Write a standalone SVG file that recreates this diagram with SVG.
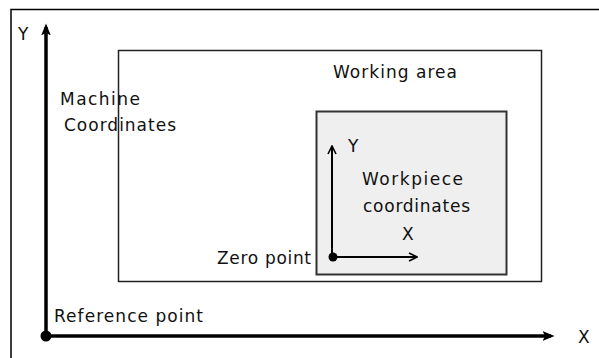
<svg xmlns="http://www.w3.org/2000/svg" width="599" height="358" viewBox="0 0 599 358">
<style>
text{font-family:"DejaVu Sans","Liberation Sans",Arial,sans-serif;font-size:17px;fill:#111}
.ax{stroke:#000;stroke-width:3.5;fill:none}
.ax2{stroke:#000;stroke-width:2;fill:none}
</style>
<defs>
<marker id="big" viewBox="0 0 10 10" refX="7" refY="5" markerWidth="3.4" markerHeight="3.4" orient="auto" markerUnits="strokeWidth">
<path d="M0,1 L10,5 L0,9 L2,5 Z" fill="#000"/>
</marker>
<marker id="open" viewBox="0 0 10 10" refX="9" refY="5" markerWidth="5" markerHeight="5" orient="auto" markerUnits="strokeWidth">
<path d="M1,1 L9,5 L1,9" fill="none" stroke="#000" stroke-width="1.6"/>
</marker>
</defs>
<rect width="599" height="358" fill="#fff"/>
<g id="frame">
<path d="M11,358 V9.5 H599" fill="none" stroke="#000" stroke-width="1.5"/>
</g>
<g id="working-area">
<rect x="118.5" y="50.5" width="423" height="231" fill="#fff" stroke="#222" stroke-width="1.5"/>
<text x="333" y="78" textLength="124">Working area</text>
</g>
<g id="workpiece">
<rect x="316.5" y="111.5" width="190" height="163" fill="#efefef" stroke="#333" stroke-width="2"/>
<text x="362" y="185" textLength="101">Workpiece</text>
<text x="363" y="212" textLength="107">coordinates</text>
</g>
<g id="connectors">
<line class="ax" x1="46" y1="336" x2="46" y2="27" marker-end="url(#big)"/>
<line class="ax" x1="46" y1="336" x2="551" y2="336" marker-end="url(#big)"/>
<line class="ax2" x1="332" y1="257" x2="332" y2="146" marker-end="url(#open)"/>
<line class="ax2" x1="332" y1="257" x2="417" y2="257" marker-end="url(#open)"/>
</g>
<g id="reference-point">
<circle cx="46" cy="336" r="5.5" fill="#000"/>
<text x="54" y="322" textLength="149">Reference point</text>
</g>
<g id="zero-point">
<circle cx="333" cy="257" r="4.5" fill="#000"/>
<text x="217" y="264" textLength="94">Zero point</text>
</g>
<g id="machine-coordinates">
<text x="60" y="105" textLength="80">Machine</text>
<text x="64" y="131" textLength="112">Coordinates</text>
</g>
<g id="labels">
<text x="18" y="40">Y</text>
<text x="578" y="343">X</text>
<text x="348" y="152">Y</text>
<text x="402" y="240">X</text>
</g>
</svg>
